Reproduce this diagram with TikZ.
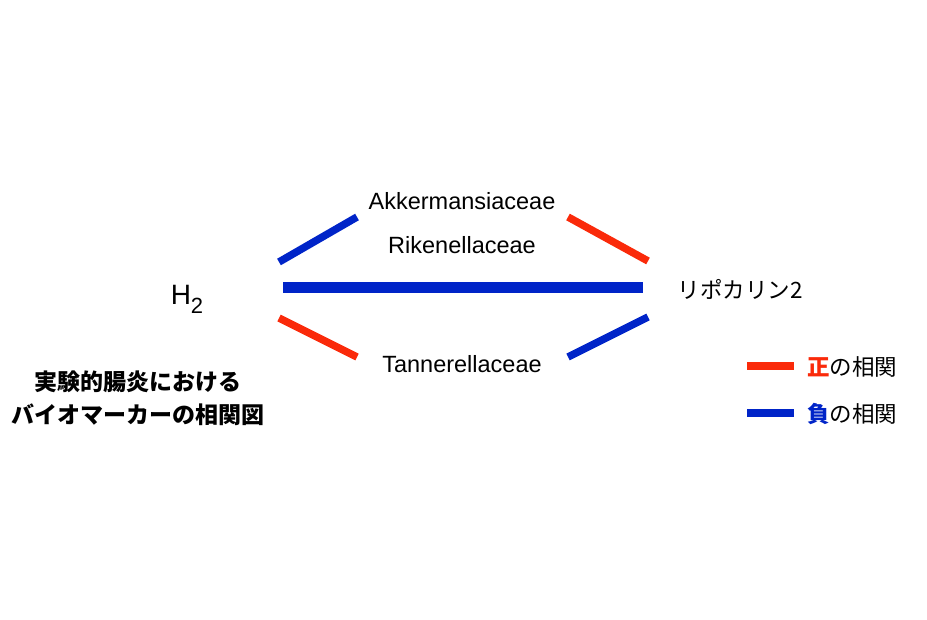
\documentclass[tikz,border=0pt]{standalone}
\usepackage{fontspec}
\setmainfont{Liberation Sans}
\newfontfamily\jpfont{Noto Sans CJK JP}
\usetikzlibrary{positioning}
\definecolor{posred}{RGB}{250,42,10}
\definecolor{negblue}{RGB}{0,36,200}

\begin{document}
\begin{tikzpicture}[x=1pt,y=-1pt,
  taxon/.style={inner sep=0pt,font=\fontsize{23.5}{27}\selectfont},
  marker/.style={inner sep=0pt,font=\fontsize{22.5}{26}\selectfont\jpfont},
  poscorr/.style={draw=posred,line width=7.5pt},
  negcorr/.style={draw=negblue,line width=7.5pt}]
  \useasboundingbox (0,0) rectangle (927,620);

  % markers and taxa
  \node[inner sep=0pt,font=\fontsize{28}{30}\selectfont] (h2) at (187,299)
    {H\raisebox{-0.6ex}{\fontsize{22}{24}\selectfont 2}};
  \node[marker] (lcn2) at (740,289) {リポカリン2};
  \node[taxon] (akk) at (462,201) {Akkermansiaceae};
  \node[taxon] (rik) at (462,245) {Rikenellaceae};
  \node[taxon] (tan) at (462,364) {Tannerellaceae};

  % bar end points
  \coordinate (ul1) at (279,262);
  \coordinate (ul2) at (357,217);
  \coordinate (ur1) at (568,217);
  \coordinate (ur2) at (648,261);
  \coordinate (ml) at (283,288);
  \coordinate (mr) at (643,288);
  \coordinate (ll1) at (279,318);
  \coordinate (ll2) at (357,357);
  \coordinate (lr1) at (568,357);
  \coordinate (lr2) at (648,317);

  \draw[negcorr] (ul1) -- (ul2);
  \draw[poscorr] (ur1) -- (ur2);
  \draw[negcorr,line width=11pt] (ml) -- (mr);
  \draw[poscorr] (ll1) -- (ll2);
  \draw[negcorr] (lr1) -- (lr2);

  % title
  \node[inner sep=0pt,align=center,font=\fontsize{23}{33}\selectfont\jpfont\bfseries]
    (title) at (138,398) {実験的腸炎における\\バイオマーカーの相関図};

  % legend
  \coordinate (pk1) at (747,366);
  \coordinate (pk2) at (794,366);
  \coordinate (nk1) at (747,413);
  \coordinate (nk2) at (794,413);
  \draw[poscorr] (pk1) -- (pk2);
  \draw[negcorr] (nk1) -- (nk2);
  \node[marker,anchor=west] (poslab) at (807,367)
    {\textcolor{posred}{\bfseries 正}の相関};
  \node[marker,anchor=west] (neglab) at (807,414)
    {\textcolor{negblue}{\bfseries 負}の相関};
\end{tikzpicture}
\end{document}
